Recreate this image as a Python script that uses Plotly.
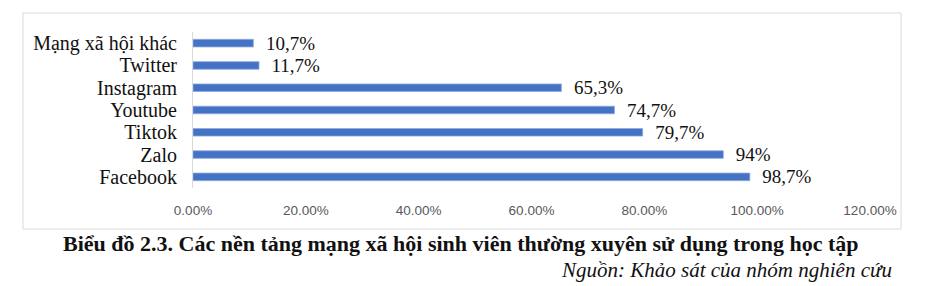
import plotly.graph_objects as go

categories = ["Facebook", "Zalo", "Tiktok", "Youtube", "Instagram", "Twitter", "Mạng xã hội khác"]
values = [0.987, 0.94, 0.797, 0.747, 0.653, 0.117, 0.107]
labels = ["98,7%", "94%", "79,7%", "74,7%", "65,3%", "11,7%", "10,7%"]
tick_vals = [0, 0.2, 0.4, 0.6, 0.8, 1.0, 1.2]
caption = "Biểu đồ 2.3. Các nền tảng mạng xã hội sinh viên thường xuyên sử dụng trong học tập"
source = "Nguồn: Khảo sát của nhóm nghiên cứu"

L, R, T, B = 193, 870, 32, 188
W, H = 940, 286

def px(x):
    return (x - L) / (R - L)

def py(y):
    return (B - y) / (B - T)

SERIF = "Liberation Serif, Times New Roman, serif"

fig = go.Figure()
fig.add_trace(go.Bar(
    y=categories, x=values, orientation="h",
    marker=dict(color="#4472C4", line=dict(color="#8FAADC", width=0.8)),
    width=0.34,
    text=labels, texttemplate="\u2002%{text}", textposition="outside",
    constraintext="none", cliponaxis=False,
    textfont=dict(family=SERIF, size=19, color="#111111"),
))

fig.update_layout(
    width=W, height=H,
    margin=dict(l=L, r=W - R, t=T, b=H - B, pad=0),
    paper_bgcolor="white", plot_bgcolor="white",
    showlegend=False,
    xaxis=dict(range=[0, 1.2], tickvals=tick_vals, tickformat=".2%",
               showgrid=False, zeroline=False, showline=False, ticks="",
               tickfont=dict(family="Liberation Sans", size=13.5, color="#595959"),
               ticklabelstandoff=12),
    yaxis=dict(tickmode="array", tickvals=categories, ticktext=categories,
               showgrid=False, zeroline=False, showline=True, linecolor="#D9D9D9", linewidth=1,
               ticks="", ticklabelstandoff=11,
               tickfont=dict(family=SERIF, size=20, color="#111111")),
    font=dict(family=SERIF),
)

fig.add_shape(type="rect", xref="paper", yref="paper",
              x0=px(23), x1=px(901), y0=py(229), y1=py(13),
              line=dict(color="#D9D9D9", width=1), fillcolor="rgba(0,0,0,0)", layer="below")

fig.add_annotation(text="<b>" + caption + "</b>", xref="paper", yref="paper",
                   x=px(461), y=py(243), showarrow=False, xanchor="center", yanchor="middle",
                   font=dict(family=SERIF, size=22, color="#111111"))
fig.add_annotation(text="<i>" + source + "</i>", xref="paper", yref="paper",
                   x=px(894), y=py(270), showarrow=False, xanchor="right", yanchor="middle",
                   font=dict(family=SERIF, size=21, color="#111111"))

fig.write_html("out.html")
